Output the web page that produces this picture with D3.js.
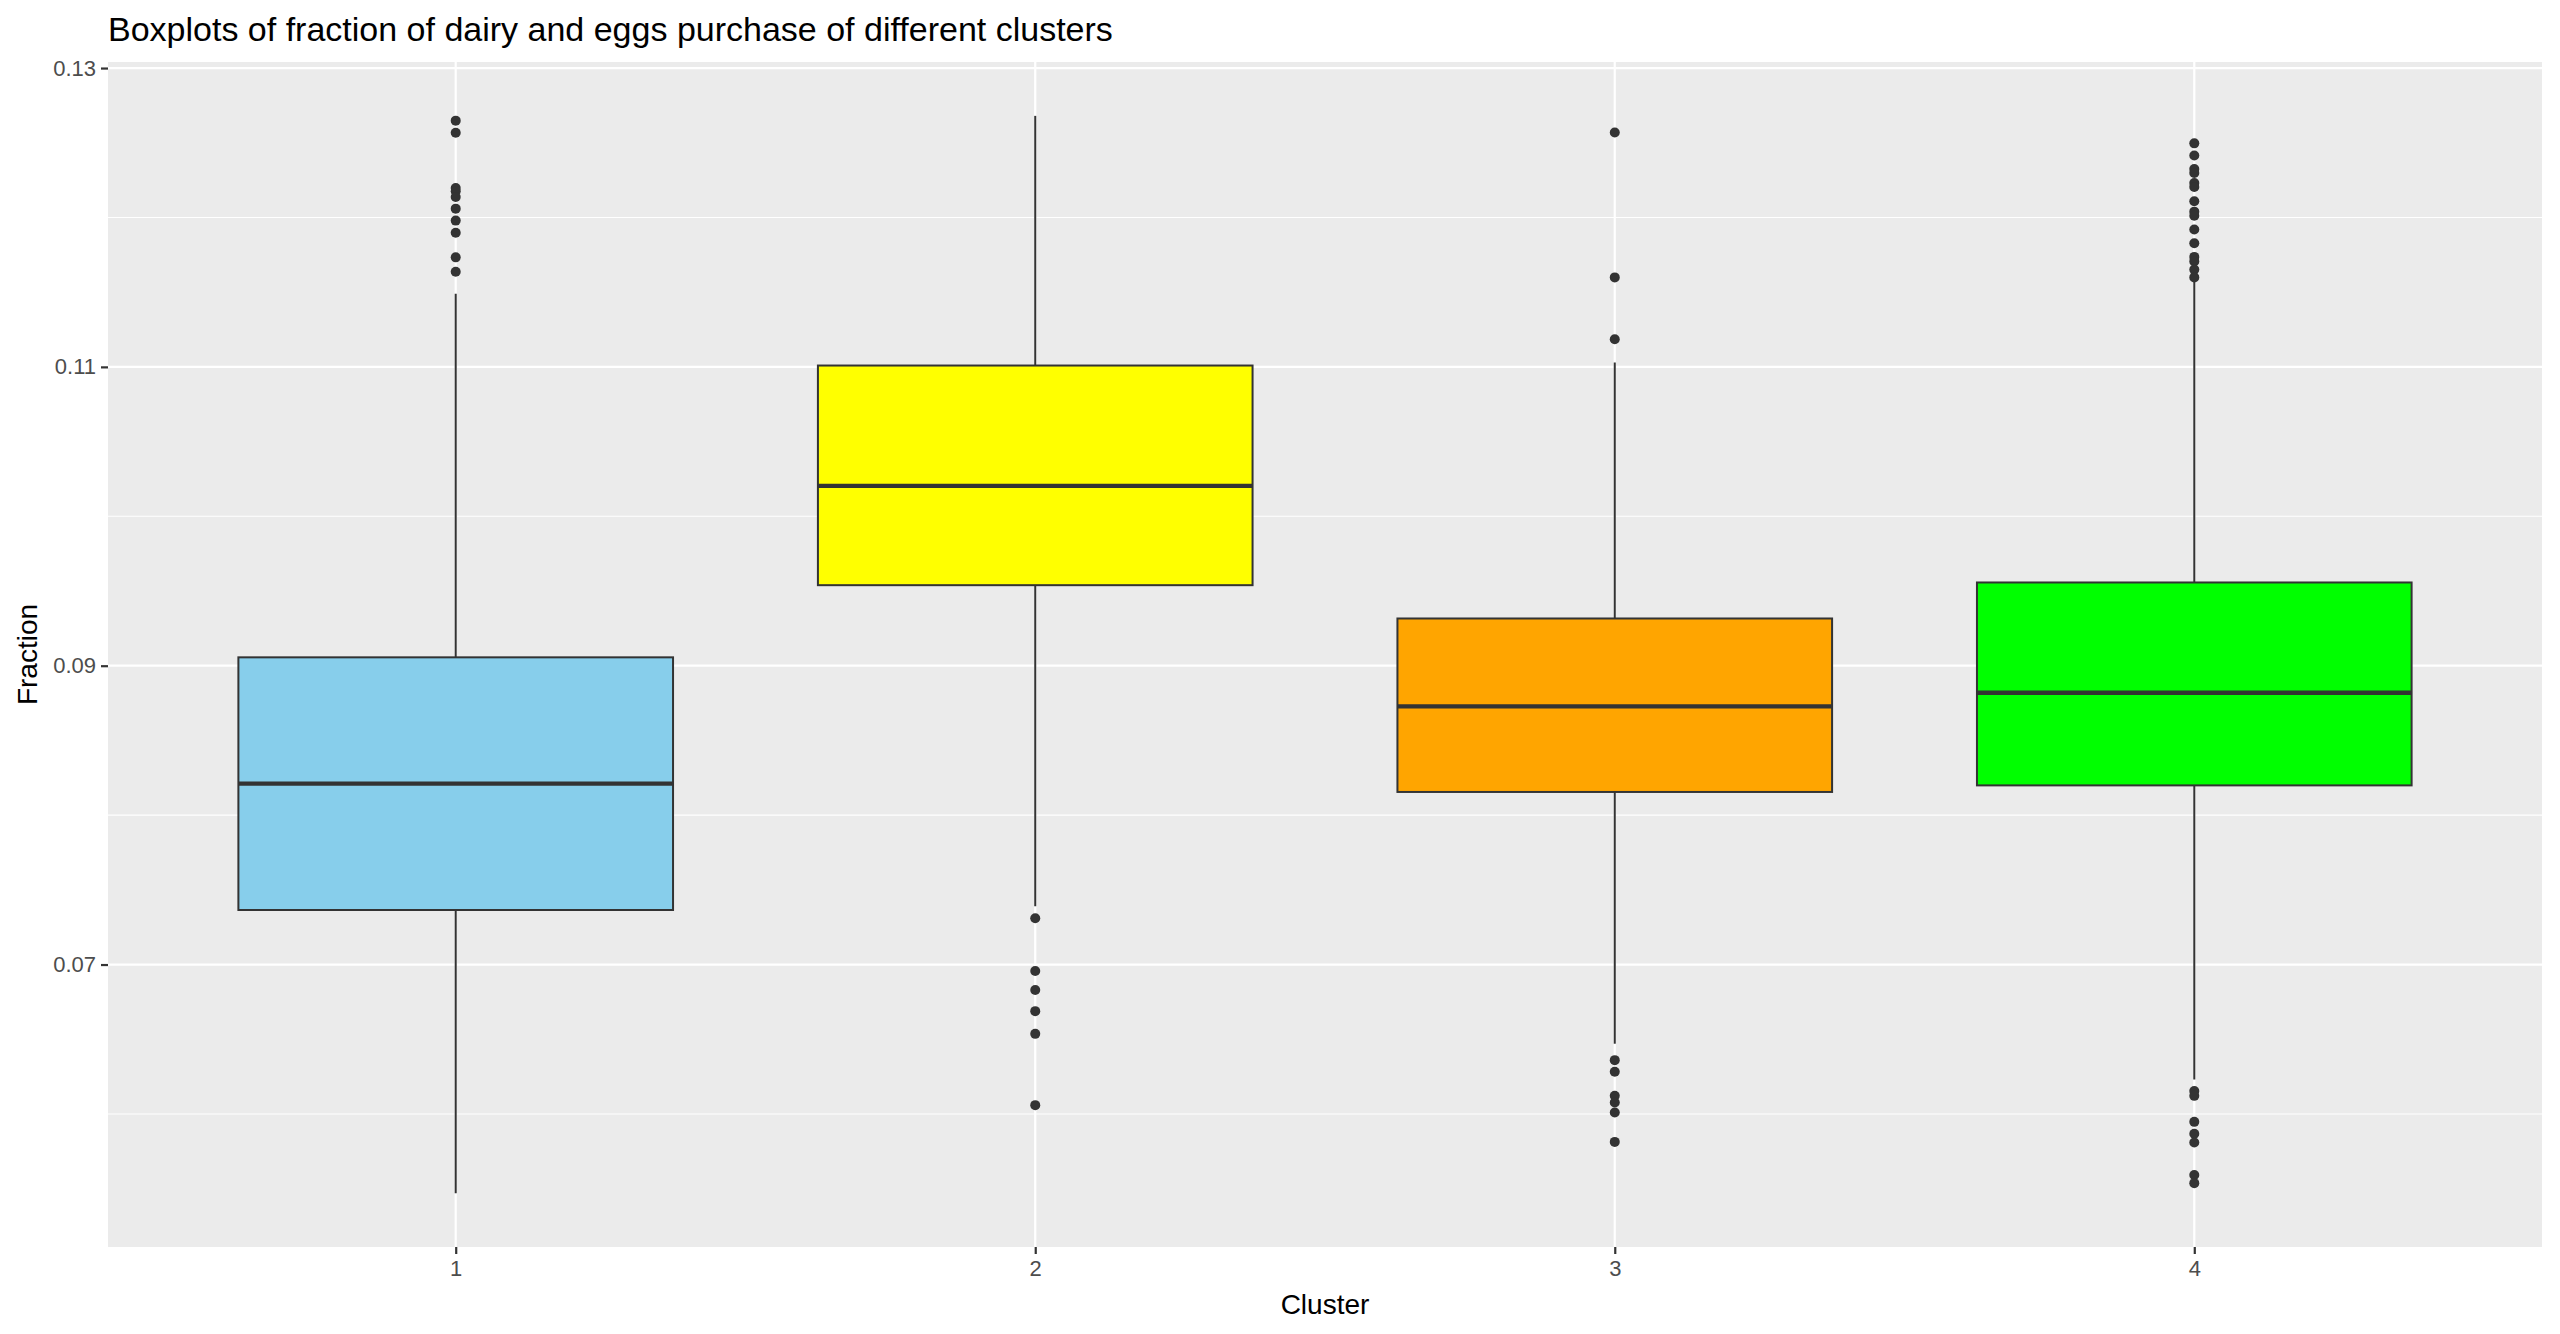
<!DOCTYPE html>
<html>
<head>
<meta charset="utf-8">
<script src="https://cdn.jsdelivr.net/npm/d3@7"></script>
<style>
  body { margin: 0; background: #fff; }
  text { font-family: "Liberation Sans", Arial, sans-serif; }
</style>
</head>
<body>
<div id="chart"></div>
<script>
// values
const clusters = ["1", "2", "3", "4"];
const fills = ["#87CEEB", "#FFFF00", "#FFA500", "#00FF00"];
const lowerWhisker = [0.0547, 0.0739, 0.0647, 0.0623];
const q1 = [0.07365, 0.09539, 0.08155, 0.08199];
const medians = [0.08211, 0.10204, 0.08728, 0.08819];
const q3 = [0.09056, 0.11009, 0.09316, 0.09557];
const upperWhisker = [0.1149, 0.1268, 0.1103, 0.1159];
const outliers = [
  [0.12648, 0.12567, 0.12197, 0.12175, 0.12137, 0.12059, 0.11979, 0.11898, 0.11733, 0.11637],
  [0.07310, 0.06957, 0.06830, 0.06688, 0.06536, 0.06059],
  [0.12569, 0.11599, 0.11185, 0.06360, 0.06282, 0.06121, 0.06077, 0.06010, 0.05813],
  [0.12496, 0.12415, 0.12324, 0.12298, 0.12231, 0.12204, 0.12108, 0.12039, 0.12012, 0.11920,
   0.11827, 0.11736, 0.11706, 0.11651, 0.11599,
   0.06154, 0.06121, 0.05947, 0.05867, 0.05809, 0.05591, 0.05537]
];
const majorTicks = [0.07, 0.09, 0.11, 0.13];
const minorTicks = [0.06, 0.08, 0.10, 0.12];

const width = 2560, height = 1334;
const margin = { top: 62, right: 18, bottom: 87, left: 108 };

const svg = d3.select("#chart").append("svg")
  .attr("width", width)
  .attr("height", height);

// y domain like ggplot: data range plus 5% each side
const allVals = lowerWhisker.concat(upperWhisker, outliers.flat());
const lo = d3.min(allVals), hi = d3.max(allVals);
const pad = (hi - lo) * 0.05;

const x = d3.scalePoint()
  .domain(clusters)
  .range([margin.left, width - margin.right])
  .padding(0.6);

const y = d3.scaleLinear()
  .domain([lo - pad, hi + pad])
  .range([height - margin.bottom, margin.top]);

const step = x.step();
const boxW = step * 0.75;

// panel
svg.append("rect")
  .attr("x", margin.left)
  .attr("y", margin.top)
  .attr("width", width - margin.left - margin.right)
  .attr("height", height - margin.top - margin.bottom)
  .attr("fill", "#EBEBEB");

// grid lines
svg.append("g").selectAll("line")
  .data(minorTicks)
  .enter().append("line")
  .attr("x1", margin.left).attr("x2", width - margin.right)
  .attr("y1", d => y(d)).attr("y2", d => y(d))
  .attr("stroke", "#fff").attr("stroke-width", 1.1);

svg.append("g").selectAll("line")
  .data(majorTicks)
  .enter().append("line")
  .attr("x1", margin.left).attr("x2", width - margin.right)
  .attr("y1", d => y(d)).attr("y2", d => y(d))
  .attr("stroke", "#fff").attr("stroke-width", 2.2);

svg.append("g").selectAll("line")
  .data(clusters)
  .enter().append("line")
  .attr("x1", d => x(d)).attr("x2", d => x(d))
  .attr("y1", margin.top).attr("y2", height - margin.bottom)
  .attr("stroke", "#fff").attr("stroke-width", 2.2);

// boxes
const boxes = svg.append("g").selectAll("g")
  .data(clusters)
  .enter().append("g");

// whiskers
boxes.append("line")
  .attr("x1", d => x(d)).attr("x2", d => x(d))
  .attr("y1", (d, i) => y(upperWhisker[i]))
  .attr("y2", (d, i) => y(q3[i]))
  .attr("stroke", "#333333").attr("stroke-width", 2);
boxes.append("line")
  .attr("x1", d => x(d)).attr("x2", d => x(d))
  .attr("y1", (d, i) => y(q1[i]))
  .attr("y2", (d, i) => y(lowerWhisker[i]))
  .attr("stroke", "#333333").attr("stroke-width", 2);

boxes.append("rect")
  .attr("x", d => x(d) - boxW / 2)
  .attr("width", boxW)
  .attr("y", (d, i) => y(q3[i]))
  .attr("height", (d, i) => y(q1[i]) - y(q3[i]))
  .attr("fill", (d, i) => fills[i])
  .attr("stroke", "#333333").attr("stroke-width", 2);

boxes.append("line")
  .attr("x1", d => x(d) - boxW / 2).attr("x2", d => x(d) + boxW / 2)
  .attr("y1", (d, i) => y(medians[i])).attr("y2", (d, i) => y(medians[i]))
  .attr("stroke", "#333333").attr("stroke-width", 4.3);

// outliers
boxes.each(function(d, i) {
  d3.select(this).selectAll("circle")
    .data(outliers[i])
    .enter().append("circle")
    .attr("cx", x(d))
    .attr("cy", v => y(v))
    .attr("r", 5)
    .attr("fill", "#333333");
});

// axes
const yAxis = svg.append("g")
  .attr("transform", `translate(${margin.left},0)`)
  .call(d3.axisLeft(y).tickValues(majorTicks).tickFormat(d3.format(".2f")).tickSize(7).tickPadding(5));
yAxis.select(".domain").remove();
yAxis.selectAll("line").attr("stroke", "#333333").attr("stroke-width", 2.2);
yAxis.selectAll("text").attr("fill", "#4D4D4D").attr("font-size", "22px")
  .style("font-family", "'Liberation Sans', Arial, sans-serif");

const xAxis = svg.append("g")
  .attr("transform", `translate(0,${height - margin.bottom})`)
  .call(d3.axisBottom(x).tickSize(7).tickPadding(6));
xAxis.select(".domain").remove();
xAxis.selectAll("line").attr("stroke", "#333333").attr("stroke-width", 2.2);
xAxis.selectAll("text").attr("fill", "#4D4D4D").attr("font-size", "22px")
  .style("font-family", "'Liberation Sans', Arial, sans-serif");

// titles
svg.append("text")
  .attr("x", margin.left)
  .attr("y", 41)
  .attr("font-size", "34px")
  .attr("fill", "#000")
  .text("Boxplots of fraction of dairy and eggs purchase of different clusters");

svg.append("text")
  .attr("x", (margin.left + width - margin.right) / 2)
  .attr("y", 1314)
  .attr("text-anchor", "middle")
  .attr("font-size", "28px")
  .attr("fill", "#000")
  .text("Cluster");

svg.append("text")
  .attr("transform", `translate(37,${(margin.top + height - margin.bottom) / 2}) rotate(-90)`)
  .attr("text-anchor", "middle")
  .attr("font-size", "28px")
  .attr("fill", "#000")
  .text("Fraction");
</script>
</body>
</html>
